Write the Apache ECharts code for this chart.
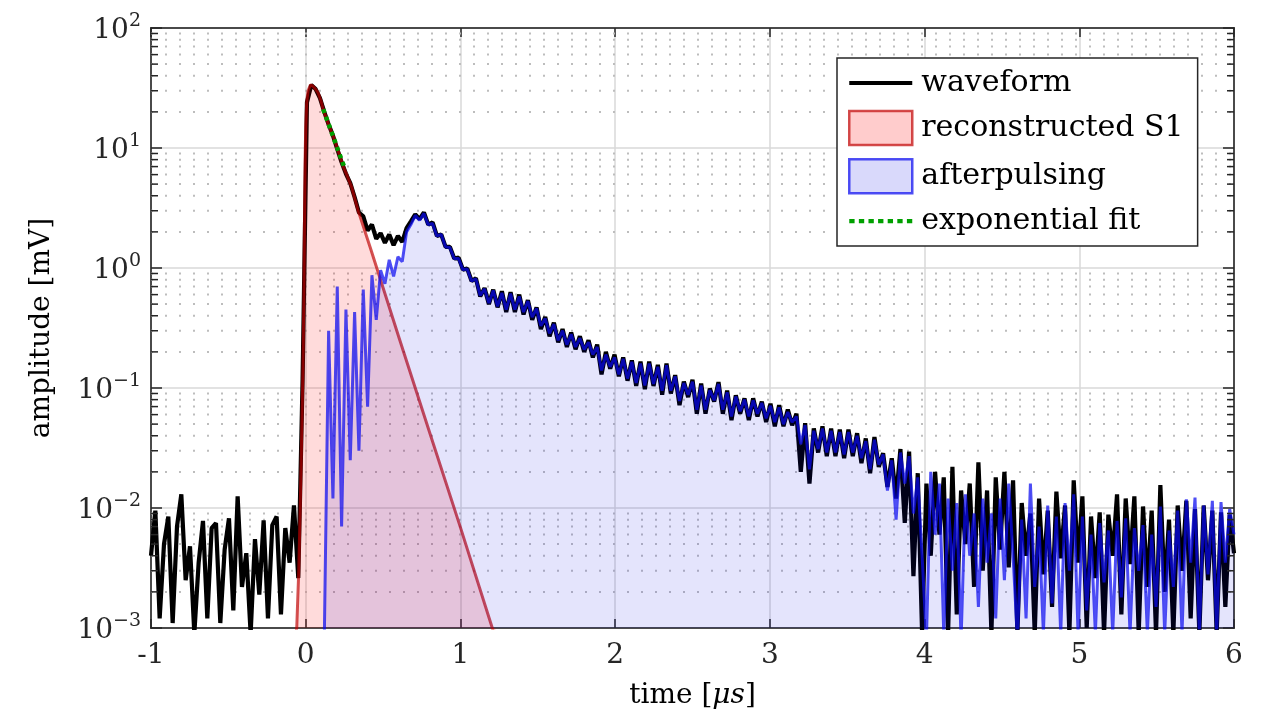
<!DOCTYPE html>
<html><head><meta charset="utf-8">
<script src="https://cdn.jsdelivr.net/npm/echarts@6/dist/echarts.min.js"></script>
<style>html,body{margin:0;padding:0;background:#fff}#c{width:1263px;height:723px}</style>
</head><body><div id="c"></div>
<script>
// ---------------- data ----------------
const xTickValues = [-1, 0, 1, 2, 3, 4, 5, 6];
const yDecades = [0.001, 0.01, 0.1, 1, 10, 100];

// waveform: sampled every waveDt microseconds starting at waveT0 (amplitude in mV)
const waveT0 = -1, waveDt = 0.028;
const waveform = [
  0.004, 0.0095, 0.0012, 0.005, 0.0085, 0.0011, 0.007, 0.013, 0.0025, 0.0048,
  0.0009, 0.0035, 0.0078, 0.0012, 0.0068, 0.0075, 0.0011, 0.0045, 0.0082, 0.0014,
  0.0125, 0.0022, 0.0042, 0.0009, 0.0055, 0.0019, 0.0079, 0.0012, 0.0072, 0.0085,
  0.0013, 0.0068, 0.0035, 0.0105, 0.0026, 0.12, 24, 33.5, 31, 26,
  20, 15.7, 12.7, 9.8, 7.6, 6.1, 5.1, 3.9, 2.9, 2.7,
  2.05, 2.3, 1.75, 1.95, 1.62, 1.9, 1.55, 1.85, 1.65, 2.15,
  2.45, 2.8, 2.55, 2.9, 2.3, 2.4, 1.85, 1.9, 1.5, 1.5,
  1.2, 1.22, 0.97, 0.99, 0.78, 0.82, 0.58, 0.68, 0.5, 0.66,
  0.47, 0.64, 0.43, 0.63, 0.43, 0.6, 0.41, 0.54, 0.37, 0.47,
  0.31, 0.39, 0.27, 0.35, 0.24, 0.31, 0.22, 0.29, 0.21, 0.27,
  0.2, 0.25, 0.18, 0.23, 0.13, 0.2, 0.145, 0.19, 0.125, 0.18,
  0.115, 0.17, 0.104, 0.166, 0.098, 0.166, 0.104, 0.156, 0.088, 0.16,
  0.09, 0.128, 0.072, 0.113, 0.084, 0.117, 0.061, 0.109, 0.061, 0.099,
  0.077, 0.112, 0.061, 0.095, 0.054, 0.087, 0.061, 0.082, 0.054, 0.082,
  0.058, 0.077, 0.052, 0.074, 0.048, 0.072, 0.048, 0.066, 0.049, 0.061,
  0.02, 0.051, 0.016, 0.046, 0.029, 0.048, 0.027, 0.046, 0.027, 0.045,
  0.026, 0.045, 0.027, 0.042, 0.0236, 0.038, 0.0195, 0.039, 0.022, 0.0286,
  0.015, 0.026, 0.012, 0.031, 0.0075, 0.0295, 0.0027, 0.0195, 0.0009, 0.016,
  0.004, 0.02, 0.006, 0.018, 0.0009, 0.022, 0.0013, 0.014, 0.005, 0.016,
  0.0022, 0.024, 0.003, 0.014, 0.0009, 0.018, 0.0045, 0.02, 0.0032, 0.017,
  0.0009, 0.011, 0.004, 0.009, 0.0009, 0.012, 0.0028, 0.0095, 0.0015, 0.0137,
  0.0038, 0.0105, 0.0009, 0.017, 0.0035, 0.0125, 0.001, 0.0085, 0.0026, 0.0092,
  0.0009, 0.0088, 0.004, 0.013, 0.0013, 0.012, 0.0034, 0.0125, 0.0009, 0.0103,
  0.0022, 0.0095, 0.0009, 0.0155, 0.002, 0.008, 0.0009, 0.0105, 0.003, 0.0115,
  0.0012, 0.0098, 0.0009, 0.0105, 0.0025, 0.0095, 0.0009, 0.0092, 0.0015, 0.0088,
  0.0042
];

// afterpulsing: sampled every apDt microseconds starting at apT0
const apT0 = 0.12, apDt = 0.028;
const afterpulsing = [
  0.0008, 0.3, 0.012, 0.7, 0.007, 0.45, 0.025, 0.43, 0.03, 0.66,
  0.07, 0.87, 0.37, 0.96, 0.74, 1.17, 0.85, 1.24, 1.13, 2.0,
  2.3, 2.75, 2.5, 2.85, 2.3, 2.35, 1.85, 1.9, 1.5, 1.48,
  1.2, 1.2, 0.97, 0.98, 0.78, 0.81, 0.59, 0.67, 0.51, 0.65,
  0.48, 0.62, 0.45, 0.61, 0.45, 0.58, 0.43, 0.53, 0.39, 0.46,
  0.33, 0.38, 0.285, 0.34, 0.25, 0.3, 0.23, 0.28, 0.22, 0.26,
  0.21, 0.24, 0.19, 0.22, 0.14, 0.19, 0.15, 0.18, 0.13, 0.175,
  0.12, 0.165, 0.11, 0.16, 0.105, 0.16, 0.108, 0.15, 0.095, 0.155,
  0.095, 0.125, 0.078, 0.11, 0.088, 0.113, 0.066, 0.105, 0.066, 0.096,
  0.079, 0.108, 0.066, 0.092, 0.058, 0.085, 0.064, 0.08, 0.058, 0.079,
  0.061, 0.075, 0.056, 0.071, 0.052, 0.069, 0.05, 0.063, 0.052, 0.058,
  0.034, 0.049, 0.021, 0.044, 0.031, 0.046, 0.029, 0.044, 0.029, 0.043,
  0.028, 0.043, 0.029, 0.04, 0.026, 0.036, 0.021, 0.037, 0.023, 0.028,
  0.014, 0.025, 0.008, 0.029, 0.016, 0.027, 0.009, 0.018, 0.004, 0.0008,
  0.02, 0.006, 0.016, 0.0009, 0.012, 0.003, 0.011, 0.0008, 0.013, 0.004,
  0.009, 0.0015, 0.012, 0.0035, 0.009, 0.0012, 0.012, 0.0025, 0.016, 0.004,
  0.0008, 0.008, 0.0012, 0.016, 0.0022, 0.007, 0.0009, 0.0105, 0.0016, 0.0085,
  0.0009, 0.011, 0.003, 0.013, 0.0009, 0.0085, 0.0014, 0.006, 0.0009, 0.0075,
  0.0024, 0.0065, 0.0009, 0.0078, 0.0018, 0.0082, 0.0009, 0.0068, 0.003, 0.0072,
  0.0009, 0.006, 0.0015, 0.0103, 0.0009, 0.0065, 0.0022, 0.0095, 0.0009, 0.0118,
  0.0035, 0.0122, 0.0009, 0.0105, 0.0028, 0.0115, 0.0009, 0.0112, 0.0035, 0.0098,
  0.006
];

// reconstructed S1 (time in us, amplitude in mV)
const s1Time = [-0.07, -0.058, -0.045, -0.036, -0.025, -0.018, -0.012, -0.008, -0.004, 0.0,
  0.006, 0.015, 0.03, 0.045, 0.06, 0.08, 0.1, 0.115, 0.15, 0.18,
  0.21, 0.244, 0.27, 0.298, 0.341, 0.417, 0.6, 0.8, 1.0, 1.206, 1.23];
const s1Amp = [0.0008, 0.001, 0.003, 0.0096, 0.05, 0.15, 0.6, 2.5, 8, 15,
  24, 30, 33.5, 33, 31.5, 29, 24.5, 20.7, 15.5, 12.4,
  9.5, 7.0, 5.8, 4.7, 2.95, 1.48, 0.27, 0.043, 0.0069, 0.001, 0.0008];

// exponential fit
const fitTime = [0.113, 0.25];
const fitAmp = [21, 6.9];

const legendNames = ['waveform', 'reconstructed S1', 'afterpulsing', 'exponential fit'];

// ---------------- chart ----------------
const F = 'DejaVu Serif';
const AX = '#262626';
const minorVals = [];
for (let d = -3; d <= 1; d++) for (let m = 2; m <= 9; m++) minorVals.push(+(m * Math.pow(10, d)).toPrecision(3));

const waveData = waveform.map((v, i) => [waveT0 + i * waveDt, v]);
const apData = afterpulsing.map((v, i) => [apT0 + i * apDt, v]);
const s1Data = s1Time.map((t, i) => [t, s1Amp[i]]);
const fitData = fitTime.map((t, i) => [t, fitAmp[i]]);

function supLabel(v) {
  const e = Math.round(Math.log10(v));
  return '{b|10}{s|' + (e < 0 ? '\u2212' + (-e) : e) + '}';
}

let dotted = 'path://';
for (let k = 0; k < 7; k++) dotted += 'M' + (k * 9) + ',0h5v4h-5z';

const chart = echarts.init(document.getElementById('c'), null, {renderer: 'canvas'});
chart.setOption({
  animation: false,
  backgroundColor: '#fff',
  grid: {left: 151, right: 29, top: 28, bottom: 95, show: true, borderColor: AX, borderWidth: 1.5, backgroundColor: 'transparent'},
  xAxis: [{
    type: 'value', min: -1, max: 6, interval: 1,
    name: 'time [{i|\u03bcs}]', nameLocation: 'middle', nameGap: 54,
    nameTextStyle: {fontFamily: F, fontSize: 28, color: '#000', rich: {i: {fontFamily: F, fontStyle: 'italic', fontSize: 28, color: '#000'}}},
    axisLine: {show: true, onZero: false, lineStyle: {color: AX, width: 1.5}},
    axisTick: {inside: true, length: 9, lineStyle: {color: AX, width: 1.5}},
    axisLabel: {fontFamily: F, fontSize: 28, color: AX, margin: 14, formatter: v => String(v)},
    splitLine: {show: true, lineStyle: {color: '#d9d9d9', width: 1.5}}
  }, {
    type: 'value', position: 'top', min: -1, max: 6, interval: 1,
    axisLine: {show: true, onZero: false, lineStyle: {color: AX, width: 1.5}},
    axisTick: {inside: true, length: 9, lineStyle: {color: AX, width: 1.5}},
    axisLabel: {show: false}, splitLine: {show: false}
  }],
  yAxis: [{
    type: 'log', logBase: 10, min: 0.001, max: 100,
    name: 'amplitude [mV]', nameLocation: 'middle', nameGap: 95,
    nameTextStyle: {fontFamily: F, fontSize: 28, color: '#000'},
    axisLine: {show: true, onZero: false, lineStyle: {color: AX, width: 1.5}},
    axisTick: {inside: true, length: 11, lineStyle: {color: AX, width: 1.5}},
    axisLabel: {margin: 10, formatter: supLabel,
      rich: {b: {fontFamily: F, fontSize: 28, color: AX, verticalAlign: 'bottom'},
             s: {fontFamily: F, fontSize: 19, color: AX, verticalAlign: 'bottom', padding: [0, 0, 14, 0]}}},
    splitLine: {show: true, lineStyle: {color: '#d9d9d9', width: 1.5}}
  }, {
    type: 'log', logBase: 10, min: 0.001, max: 100, position: 'right',
    axisLine: {show: true, onZero: false, lineStyle: {color: AX, width: 1.5}},
    axisTick: {inside: true, length: 11, lineStyle: {color: AX, width: 1.5}},
    axisLabel: {show: false}, splitLine: {show: false}
  }],
  legend: {
    orient: 'vertical', left: 837, top: 58,
    itemWidth: 63, itemHeight: 34, itemGap: 11.7,
    padding: [10, 14, 10, 11],
    backgroundColor: '#fff', borderColor: AX, borderWidth: 1.5, borderRadius: 0,
    selectedMode: false,
    textStyle: {fontFamily: F, fontSize: 30, color: '#000', padding: [0, 0, 0, 4]},
    data: [
      {name: legendNames[0], icon: 'path://M0,0h63v4h-63z', itemStyle: {color: '#000', borderWidth: 0}},
      {name: legendNames[1], icon: 'rect', itemStyle: {color: 'rgba(255,0,0,0.2)', borderColor: 'rgba(200,30,30,0.8)', borderWidth: 2.5}},
      {name: legendNames[2], icon: 'rect', itemStyle: {color: 'rgba(0,0,230,0.15)', borderColor: 'rgba(20,20,240,0.75)', borderWidth: 2.5}},
      {name: legendNames[3], icon: dotted, itemStyle: {color: '#00a000', borderWidth: 0}}
    ]
  },
  series: [
    {
      type: 'custom', silent: true, z: 1, xAxisIndex: 0, yAxisIndex: 0,
      data: minorVals.map(v => [0, v]), encode: {x: 0, y: 1},
      renderItem: (params, api) => {
        const cs = params.coordSys;
        const y = api.coord([0, api.value(1)])[1];
        return {type: 'line', silent: true, shape: {x1: cs.x, y1: y, x2: cs.x + cs.width, y2: y},
          style: {stroke: '#bdbdbd', lineWidth: 2, lineDash: [2, 12]}};
      }
    },
    {
      name: legendNames[0], type: 'line', data: waveData, showSymbol: false, symbol: 'none', z: 3,
      lineStyle: {color: '#000', width: 4.2}, itemStyle: {color: '#000'}, clip: true
    },
    {
      name: legendNames[1], type: 'line', data: s1Data, showSymbol: false, symbol: 'none', z: 4,
      lineStyle: {color: 'rgba(190,0,0,0.68)', width: 3}, itemStyle: {color: 'rgba(190,0,0,0.68)'},
      areaStyle: {color: 'rgba(255,0,0,0.2)', origin: 'start'}, clip: true
    },
    {
      name: legendNames[2], type: 'line', data: apData, showSymbol: false, symbol: 'none', z: 5,
      lineStyle: {color: 'rgba(10,10,240,0.72)', width: 3}, itemStyle: {color: 'rgba(10,10,240,0.72)'},
      areaStyle: {color: 'rgba(0,0,230,0.15)', origin: 'start'}, clip: true
    },
    {
      name: legendNames[3], type: 'line', data: fitData, showSymbol: false, symbol: 'none', z: 6,
      lineStyle: {color: '#00a000', width: 4.5, type: [4, 4]}, itemStyle: {color: '#00a000'}, clip: true
    },
    {
      type: 'custom', silent: true, z: 7, xAxisIndex: 0, yAxisIndex: 0,
      data: minorVals.map(v => [0, v]), encode: {x: 0, y: 1},
      renderItem: (params, api) => {
        const cs = params.coordSys;
        const y = api.coord([0, api.value(1)])[1];
        return {type: 'group', children: [
          {type: 'line', shape: {x1: cs.x, y1: y, x2: cs.x + 7, y2: y}, style: {stroke: AX, lineWidth: 1.5}},
          {type: 'line', shape: {x1: cs.x + cs.width - 7, y1: y, x2: cs.x + cs.width, y2: y}, style: {stroke: AX, lineWidth: 1.5}}
        ]};
      }
    }
  ]
});
</script></body></html>
